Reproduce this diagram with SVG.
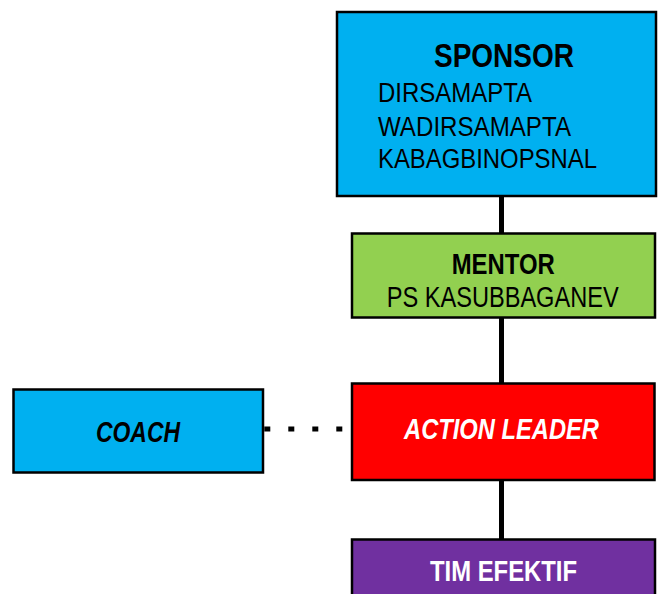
<svg xmlns="http://www.w3.org/2000/svg" width="658" height="594" viewBox="0 0 658 594">
<style>
.box{stroke:#000;stroke-width:2.5}
.t{font-family:"Liberation Sans",Arial,sans-serif;fill:#000}
.b{font-weight:bold}
.i{font-style:italic}
.w{fill:#fff}
.link{stroke:#000;stroke-width:5;fill:none}
</style>
<rect width="658" height="594" fill="#fff"/>
<g id="connectors">
<line class="link" x1="501.5" y1="196" x2="501.5" y2="233"/>
<line class="link" x1="501.5" y1="317" x2="501.5" y2="383"/>
<line class="link" x1="501.5" y1="480" x2="501.5" y2="539"/>
<line class="link" x1="264.3" y1="429" x2="351" y2="429" stroke-dasharray="6 18"/>
</g>
<g id="sponsor">
<rect class="box" x="337" y="12" width="319" height="184" fill="#00B0F0"/>
<text class="t b" x="434" y="67" font-size="33" textLength="140" lengthAdjust="spacingAndGlyphs">SPONSOR</text>
<text class="t" x="378" y="101.5" font-size="27" textLength="154" lengthAdjust="spacingAndGlyphs">DIRSAMAPTA</text>
<text class="t" x="378" y="135.5" font-size="27" textLength="193" lengthAdjust="spacingAndGlyphs">WADIRSAMAPTA</text>
<text class="t" x="378" y="168" font-size="27" textLength="219" lengthAdjust="spacingAndGlyphs">KABAGBINOPSNAL</text>
</g>
<g id="mentor">
<rect class="box" x="352" y="233.5" width="303" height="84" fill="#92D050"/>
<text class="t b" x="451.7" y="273.5" font-size="29" textLength="103" lengthAdjust="spacingAndGlyphs">MENTOR</text>
<text class="t" x="386.7" y="306.5" font-size="30" textLength="232" lengthAdjust="spacingAndGlyphs">PS KASUBBAGANEV</text>
</g>
<g id="coach">
<rect class="box" x="13.5" y="389.5" width="249.5" height="83" fill="#00B0F0"/>
<text class="t b i" x="96" y="441.5" font-size="29" textLength="84" lengthAdjust="spacingAndGlyphs">COACH</text>
</g>
<g id="action-leader">
<rect class="box" x="352" y="383.5" width="302.5" height="96.5" fill="#FF0000"/>
<text class="t b i w" x="404" y="438.5" font-size="29" textLength="195" lengthAdjust="spacingAndGlyphs">ACTION LEADER</text>
</g>
<g id="tim-efektif">
<rect class="box" x="352" y="539.5" width="303" height="60" fill="#7030A0"/>
<text class="t b w" x="430" y="581" font-size="30" textLength="147" lengthAdjust="spacingAndGlyphs">TIM EFEKTIF</text>
</g>
</svg>
